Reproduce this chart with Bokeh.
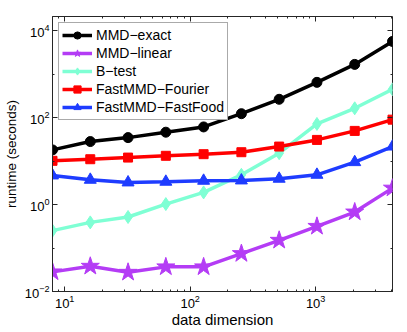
from bokeh.plotting import figure
from bokeh.models import FixedTicker, LogAxis, Legend, LegendItem, Range1d
from bokeh.embed import file_html
from bokeh.resources import INLINE

# data dimension (x) and runtime in seconds (y)
dims = [8, 16, 32, 64, 128, 256, 512, 1024, 2048, 4096]
mmd_exact = [18.2, 28.3, 34.9, 46.5, 61.5, 124, 266, 653, 1692, 5710]
mmd_linear = [0.0283, 0.0381, 0.0277, 0.0369, 0.0369, 0.0746, 0.151, 0.316, 0.676, 2.40]
b_test = [0.252, 0.390, 0.519, 1.03, 1.91, 4.86, 15.3, 72, 165, 451]
fastmmd_fourier = [10.2, 11.1, 12.1, 13.3, 14.5, 16.1, 21.7, 30.9, 49.8, 90.4]
fastmmd_fastfood = [4.69, 3.73, 3.24, 3.36, 3.54, 3.60, 3.94, 4.86, 9.5, 21.7]

names = ["MMD\u2212exact", "MMD\u2212linear", "B\u2212test", "FastMMD\u2212Fourier", "FastMMD\u2212FastFood"]
series = [mmd_exact, mmd_linear, b_test, fastmmd_fourier, fastmmd_fastfood]
colors = ["#000000", "#B43CF5", "#7FFFD4", "#FF0000", "#1E3CFF"]
markers = ["circle", "star", "diamond", "square", "triangle"]
msizes = [10, 19, 13, 9, 12]

x_major = [10, 100, 1000]
x_minor = [8, 9] + [k * 10 for k in range(2, 10)] + [k * 100 for k in range(2, 10)] + [2000, 3000, 4000]
y_major = [1e-2, 1, 1e2, 1e4]
y_minor = [1e-1, 1e1, 1e3]

FONT = "Liberation Sans"

p = figure(width=400, height=330, x_axis_type="log", y_axis_type="log",
           x_range=Range1d(8, 4096), y_range=Range1d(1e-2, 10 ** 4.331),
           output_backend="svg", toolbar_location=None,
           min_border_left=48, min_border_right=8, min_border_top=16, min_border_bottom=38)
p.background_fill_color = "white"
p.border_fill_color = "white"
p.outline_line_color = "#262626"
p.outline_line_width = 1
p.grid.visible = False

for ax, maj, mino in ((p.xaxis[0], x_major, x_minor), (p.yaxis[0], y_major, y_minor)):
    ax.ticker = FixedTicker(ticks=maj, minor_ticks=mino)
    ax.major_tick_in = 5
    ax.major_tick_out = 0
    ax.minor_tick_in = 2
    ax.minor_tick_out = 0
    ax.axis_line_color = "#262626"
    ax.major_tick_line_color = "#262626"
    ax.minor_tick_line_color = "#262626"
    ax.major_label_text_font = FONT
    ax.major_label_text_font_size = "13px"
    ax.major_label_text_color = "#000000"
    ax.axis_label_text_font = FONT
    ax.axis_label_text_font_style = "normal"
    ax.axis_label_text_color = "#000000"

p.xaxis.axis_label = "data dimension"
p.yaxis.axis_label = "runtime (seconds)"
p.xaxis.axis_label_text_font_size = "15px"
p.yaxis.axis_label_text_font_size = "13.5px"
p.xaxis.major_label_standoff = 3
p.yaxis.major_label_standoff = 3
p.xaxis.axis_label_standoff = 0
p.yaxis.axis_label_standoff = 3

# mirrored tick marks on the top and right edges
for loc, maj, mino in (("above", x_major, x_minor), ("right", y_major, y_minor)):
    ax = LogAxis(ticker=FixedTicker(ticks=maj, minor_ticks=mino),
                 major_label_text_font_size="1px", major_label_text_alpha=0,
                 major_label_standoff=0,
                 major_tick_in=5, major_tick_out=0, minor_tick_in=2, minor_tick_out=0,
                 axis_line_color=None, major_tick_line_color="#262626",
                 minor_tick_line_color="#262626")
    p.add_layout(ax, loc)

items = []
for name, ys, c, m, s in zip(names, series, colors, markers, msizes):
    r1 = p.line(dims, ys, line_color=c, line_width=3.5)
    r2 = p.scatter(dims, ys, marker=m, size=s, fill_color=c, line_color=c)
    items.append(LegendItem(label=name, renderers=[r1, r2]))

legend = Legend(items=items, location="top_left")
legend.label_text_font = FONT
legend.label_text_font_size = "14px"
legend.label_text_color = "#000000"
legend.glyph_width = 30
legend.glyph_height = 18
legend.label_height = 18
legend.label_standoff = 4
legend.spacing = 0
legend.padding = 3
legend.margin = 6
legend.border_line_color = "#555555"
legend.border_line_width = 1
legend.background_fill_color = "white"
legend.background_fill_alpha = 1
p.add_layout(legend, "center")

open("out.html", "w").write(file_html(p, INLINE))
